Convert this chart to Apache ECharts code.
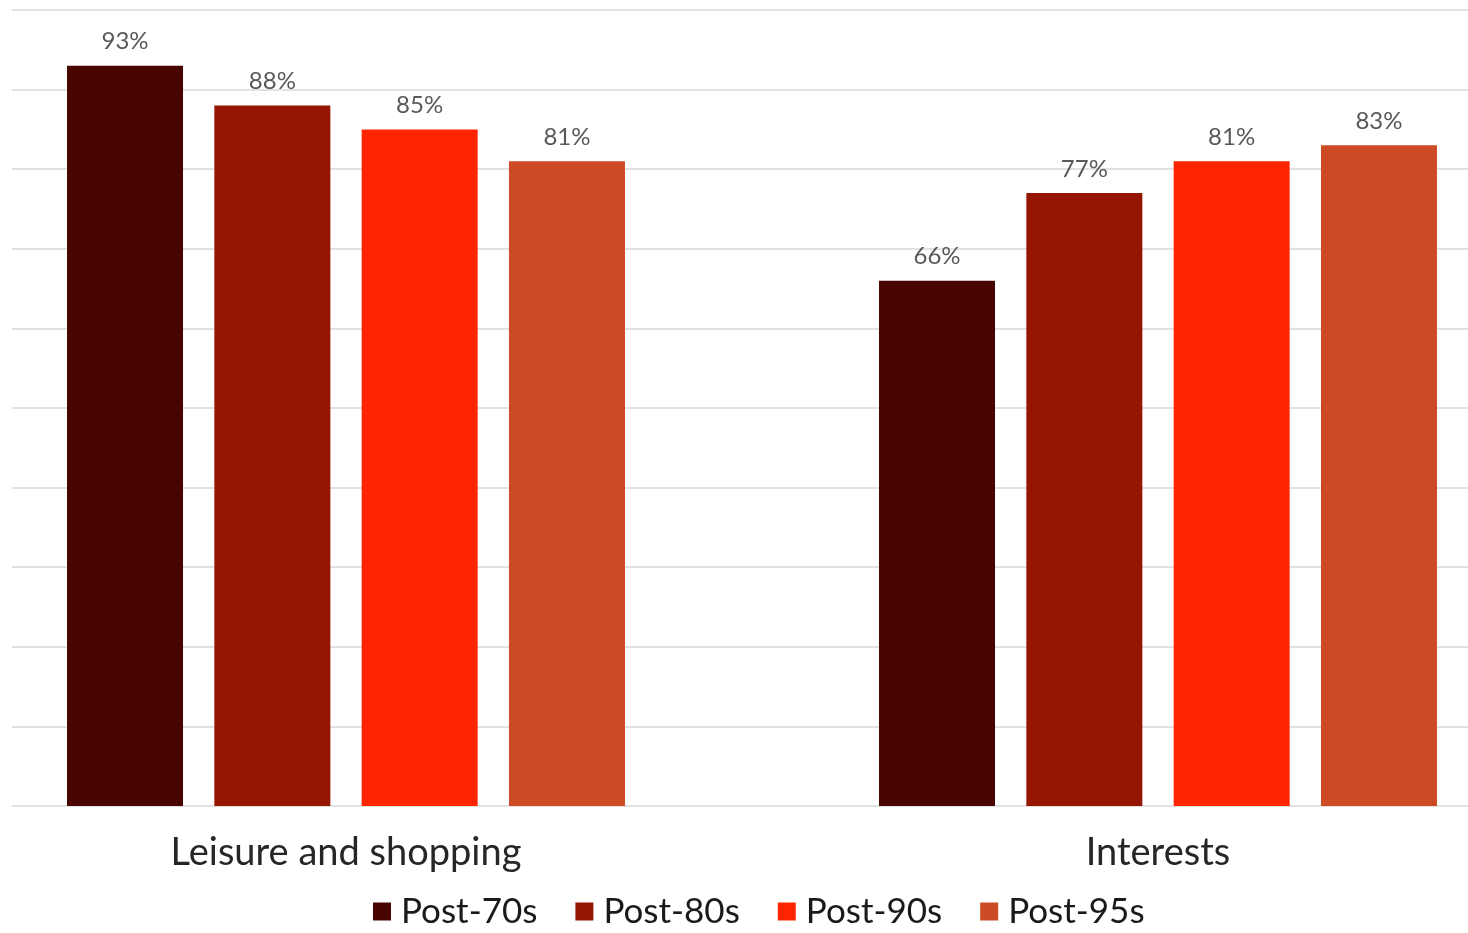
<!DOCTYPE html>
<html>
<head>
<meta charset="utf-8">
<script src="https://cdn.jsdelivr.net/npm/echarts@6/dist/echarts.min.js"></script>
<style>
  html, body { margin: 0; padding: 0; background: #ffffff; }
  #chart { width: 1468px; height: 933px; }
</style>
</head>
<body>
<div id="chart"></div>
<script>
// Share of respondents by generation, per activity type
const categories = ['Leisure and shopping', 'Interests'];
const seriesNames = ['Post-70s', 'Post-80s', 'Post-90s', 'Post-95s'];
const post70s = [93, 66];
const post80s = [88, 77];
const post90s = [85, 81];
const post95s = [81, 83];
const colors = ['#470400', '#951500', '#ff2500', '#cc4a24'];

const values = [post70s, post80s, post90s, post95s];
const font = 'Lato, "Open Sans", sans-serif';

const chart = echarts.init(document.getElementById('chart'), null, { renderer: 'canvas' });

const series = seriesNames.map((name, i) => ({
  name,
  type: 'bar',
  xAxisIndex: 1,
  yAxisIndex: 1,
  data: values[i],
  barWidth: 116,
  barGap: '27%',
  itemStyle: { color: colors[i] },
  label: {
    show: true,
    position: 'top',
    distance: 12,
    formatter: '{c}%',
    color: '#595959',
    fontSize: 24,
    fontFamily: font
  }
}));

chart.setOption({
  animation: false,
  backgroundColor: '#ffffff',
  legend: {
    data: seriesNames,
    top: 889,
    left: 368,
    itemWidth: 18,
    itemHeight: 18,
    itemGap: 38,
    icon: 'rect',
    textStyle: { fontSize: 35, color: '#1a1a1a', fontFamily: font, padding: [0, 0, 0, 5] }
  },
  grid: [
    // grid for the horizontal gridlines
    { left: 12, right: 0, top: 10, bottom: 127, outerBoundsMode: 'none' },
    // grid for the bars, wider than the plot so the groups sit apart
    { left: -60, width: 1624, top: 10, bottom: 127, outerBoundsMode: 'none' }
  ],
  xAxis: [
    { type: 'category', gridIndex: 0, data: categories, show: false },
    {
      type: 'category',
      gridIndex: 1,
      data: categories,
      axisLine: { show: false },
      axisTick: { show: false },
      axisLabel: { fontSize: 38, color: '#262626', fontFamily: font, margin: 28 }
    }
  ],
  yAxis: [
    {
      type: 'value', gridIndex: 0, min: 0, max: 100, interval: 10,
      axisLabel: { show: false }, axisLine: { show: false }, axisTick: { show: false },
      splitLine: { lineStyle: { color: '#d9d9d9', width: 1.5 } }
    },
    {
      type: 'value', gridIndex: 1, min: 0, max: 100, interval: 10,
      axisLabel: { show: false }, axisLine: { show: false }, axisTick: { show: false },
      splitLine: { show: false }
    }
  ],
  series
});
</script>
</body>
</html>
